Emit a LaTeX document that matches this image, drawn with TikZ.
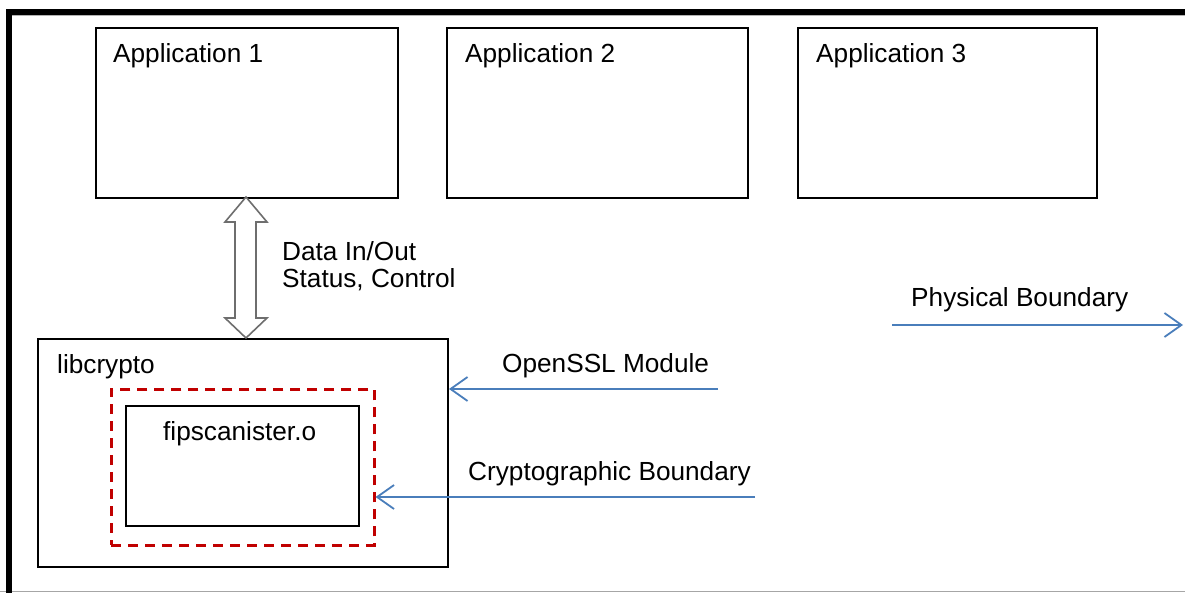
\documentclass[tikz,border=0pt]{standalone}
\usepackage{fontspec}
\setmainfont{Liberation Sans}
\usetikzlibrary{arrows.meta}
\definecolor{arrblue}{HTML}{4A7EBB}
\definecolor{dashred}{HTML}{C00000}
\definecolor{arrgray}{HTML}{6E6E6E}
\tikzset{
  box/.style={draw=black, line width=2pt, fill=white, inner sep=0pt, anchor=north west},
  lbl/.style={anchor=base west, inner sep=0pt, font=\fontsize{26.2}{31}\selectfont},
  barb/.style={draw=arrblue, line width=1.8pt, -{Straight Barb[length=17pt,width=24pt,line width=1.8pt]}},
  redbox/.style={draw=dashred, line width=2.5pt, dash pattern=on 10pt off 7pt, inner sep=0pt, anchor=north west}
}
\begin{document}
\begin{tikzpicture}[x=1pt,y=-1pt]
\useasboundingbox (0,0) rectangle (1185,593);
\fill[white] (0,0) rectangle (1185,593);
% outer frame
\draw[line width=1pt, draw=gray!70] (0,591) -- (1185,591);
\draw[line width=1pt, draw=gray!60] (12,15.5) -- (1185,15.5);
\draw[line width=6pt, line cap=rect] (9,12) -- (1185,12);
\draw[line width=6pt] (9,12) -- (9,593);
% application boxes
\node[box, minimum width=302pt, minimum height=170pt] (app1) at (95,27) {};
\node[box, minimum width=301pt, minimum height=170pt] (app2) at (446,27) {};
\node[box, minimum width=299pt, minimum height=170pt] (app3) at (797,27) {};
\node[lbl] (t1) at (113,62.5) {Application 1};
\node[lbl] (t2) at (465,62.5) {Application 2};
\node[lbl] (t3) at (816,62.5) {Application 3};
% libcrypto
\node[box, minimum width=410pt, minimum height=228pt] (lib) at (37,338) {};
\node[lbl] (tlib) at (57,373) {libcrypto};
\node[redbox, minimum width=263pt, minimum height=156pt] (crypt) at (110,388) {};
\node[box, minimum width=233pt, minimum height=120pt] (fips) at (125,405) {};
\node[lbl] (tfips) at (163,440) {fipscanister.o};
% double arrow between Application 1 and libcrypto
\draw[draw=arrgray, line width=1.6pt, fill=white, line join=miter]
  (246,197) -- (267,222) -- (256,222) -- (256,318) -- (267,318) -- (246,338)
  -- (225,318) -- (235,318) -- (235,222) -- (225,222) -- cycle;
\node[lbl] (tdata) at (282,261) {Data In/Out};
\node[lbl] (tstat) at (282,287.5) {Status, Control};
% boundaries
\node[lbl] (tphys) at (911,307) {Physical Boundary};
\coordinate (ps) at (892,325);
\coordinate (pe) at (1183,325);
\draw[barb] (ps) -- (pe);
\node[lbl] (tossl) at (502,372) {OpenSSL Module};
\coordinate (os) at (718,389);
\draw[barb] (os) -- (lib.east |- os);
\node[lbl] (tcb) at (468,480) {Cryptographic Boundary};
\coordinate (cs) at (755,497);
\draw[barb] (cs) -- (crypt.east |- cs);
\end{tikzpicture}
\end{document}
